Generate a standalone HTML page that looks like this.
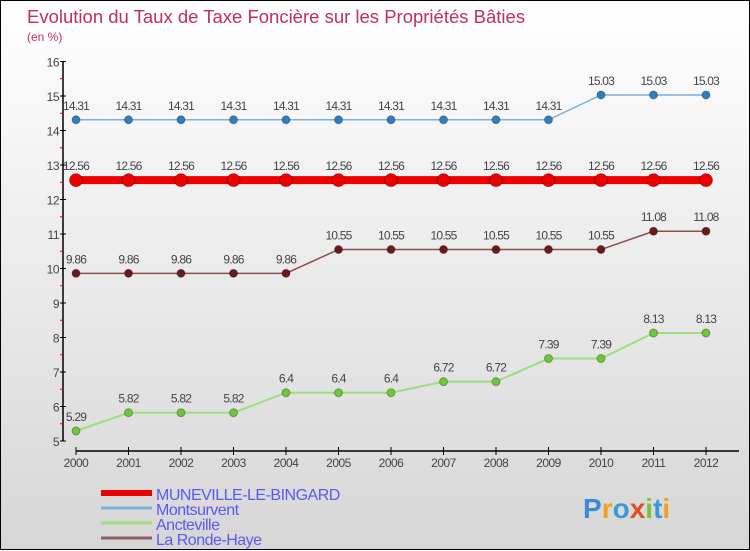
<!DOCTYPE html>
<html><head><meta charset="utf-8"><style>
body{margin:0}
#c{width:748px;height:548px;border:1px solid #000;background:linear-gradient(#ffffff,#d6d6d6);position:relative;font-family:"Liberation Sans",sans-serif}
svg{position:absolute;left:0;top:0}
</style></head><body>
<div id="c">
<svg id="s" width="750" height="550"></svg>
</div>
<script>
const years=[2000,2001,2002,2003,2004,2005,2006,2007,2008,2009,2010,2011,2012];
const yTicks=[5,6,7,8,9,10,11,12,13,14,15,16];
const muneville=[12.56,12.56,12.56,12.56,12.56,12.56,12.56,12.56,12.56,12.56,12.56,12.56,12.56];
const montsurvent=[14.31,14.31,14.31,14.31,14.31,14.31,14.31,14.31,14.31,14.31,15.03,15.03,15.03];
const ancteville=[5.29,5.82,5.82,5.82,6.4,6.4,6.4,6.72,6.72,7.39,7.39,8.13,8.13];
const rondehaye=[9.86,9.86,9.86,9.86,9.86,10.55,10.55,10.55,10.55,10.55,10.55,11.08,11.08];
const NS='http://www.w3.org/2000/svg';
const s=document.getElementById('s');
const X=i=>75+i*52.5;
const Y=v=>440-(v-5)*34.5;
function el(t,a,txt){const e=document.createElementNS(NS,t);for(const k in a)e.setAttribute(k,a[k]);if(txt!==undefined)e.textContent=txt;s.appendChild(e);return e;}
let e;
e=el('text',{x:26,y:22,fill:'#c0305a','font-size':18.5},'Evolution du Taux de Taxe Foncière sur les Propriétés Bâties');

e=el('text',{x:26,y:40,fill:'#c0305a','font-size':12},'(en %)');

e=el('line',{x1:62,y1:60,x2:62,y2:440,stroke:'#000','stroke-width':1.5});

yTicks.forEach(v=>{
 el('line',{x1:59,y1:Y(v),x2:65,y2:Y(v),stroke:'#000'});
 if(v<16)el('line',{x1:59,y1:Y(v+0.5),x2:62,y2:Y(v+0.5),stroke:'#e00'});
 e=el('text',{x:58,y:Y(v)+5,'text-anchor':'end','font-size':12,fill:'#444','letter-spacing':'-0.5'},v);
 
});
e=el('line',{x1:75,y1:450,x2:738,y2:450,stroke:'#000','stroke-width':1.5});

years.forEach((y,i)=>{
 el('line',{x1:X(i),y1:446,x2:X(i),y2:454,stroke:'#000'});
 e=el('text',{x:X(i),y:466,'text-anchor':'middle','font-size':12,fill:'#444','letter-spacing':'-0.5'},y);
 
});
function series(vals,color,dot,w,r,name){
 e=el('polyline',{points:vals.map((v,i)=>X(i)+','+Y(v)).join(' '),fill:'none',stroke:color,'stroke-width':w});
 
 vals.forEach((v,i)=>{
  e=el('circle',{cx:X(i),cy:Y(v),r:r,fill:dot,stroke:'rgba(0,0,0,0.3)'});
  
  e=el('text',{x:X(i),y:Y(v)-10,'text-anchor':'middle','font-size':12,fill:'#444','letter-spacing':'-0.8'},v);
  
 });
}
series(montsurvent,'#7aaedc','#2f7fc0',1.5,4,'montsurvent');
series(muneville,'#e00','#e00',8,6.5,'muneville');
series(rondehaye,'#8a5050','#6a1a1a',1.5,4,'ronde-haye');
series(ancteville,'#a0dc80','#6cc838',2,4,'ancteville');
const leg=[['MUNEVILLE-LE-BINGARD','#e00',6],['Montsurvent','#7aaedc',3],['Ancteville','#a0dc80',3],['La Ronde-Haye','#8a6060',3]];
leg.forEach((l,i)=>{
 const y=492+i*15;
 e=el('line',{x1:100,y1:y,x2:151,y2:y,stroke:l[1],'stroke-width':l[2]});
 
 e=el('text',{x:155,y:y+7,'font-size':16,fill:'#5a5af0','letter-spacing':'-0.5'},l[0]);
 
});
e=el('text',{x:582,y:517,'font-size':28,'font-weight':'bold',fill:'#3a9ad8'});

[['P','#3a8ad8'],['r','#f0a020'],['o','#3a9ad8'],['x','#e05020'],['i','#80c030'],['t','#3a9ad8'],['i','#f0a020']].forEach(c=>{
 const t=document.createElementNS(NS,'tspan');t.setAttribute('fill',c[1]);t.textContent=c[0];e.appendChild(t);
});
</script>
</body></html>
